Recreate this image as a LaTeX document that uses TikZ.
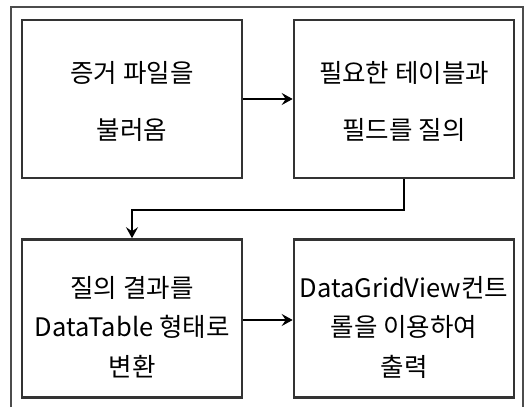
\documentclass[tikz,border=0pt]{standalone}
\usepackage{fontspec}
\setmainfont{Noto Sans CJK KR}
\usetikzlibrary{arrows.meta}
\begin{document}
\begin{tikzpicture}[x=1pt,y=-1pt,
  stepbox/.style={draw=black!80,line width=2.6pt,minimum width=220pt,minimum height=158pt,inner sep=0pt},
  txt/.style={align=center,inner sep=0pt},
  conn/.style={draw=black,line width=2pt,-{Stealth[length=11pt,width=12pt,inset=4pt]}},
  frame/.style={draw=black!70,line width=1.4pt}]
\useasboundingbox (0,0) rectangle (530,407);
\draw[frame] (11,407) -- (11,7) -- (523,7) -- (523,407);
\node[stepbox] (b1) at (132,99) {};
\node[stepbox] (b2) at (404,99) {};
\node[stepbox] (b3) at (132,318.5) {};
\node[stepbox] (b4) at (404,318.5) {};
\node[txt,font=\fontsize{25.5}{57}\selectfont] (t1) at (132,101) {증거 파일을\\불러옴};
\node[txt,font=\fontsize{25.5}{57}\selectfont] (t2) at (404,101) {필요한 테이블과\\필드를 질의};
\node[txt,font=\fontsize{25.5}{39.5}\selectfont] (t3) at (132,327) {질의 결과를\\DataTable 형태로\\변환};
\node[txt,font=\fontsize{25.5}{39.5}\selectfont] (t4) at (404,327) {DataGridView컨트\\롤을 이용하여\\출력};
\draw[conn] (b1) -- (b2);
\draw[conn] (b2.south) -- ++(0,31) -| (b3.north);
\draw[conn] (b3.east |- 0,320) -- (b4.west |- 0,320);
\end{tikzpicture}
\end{document}
